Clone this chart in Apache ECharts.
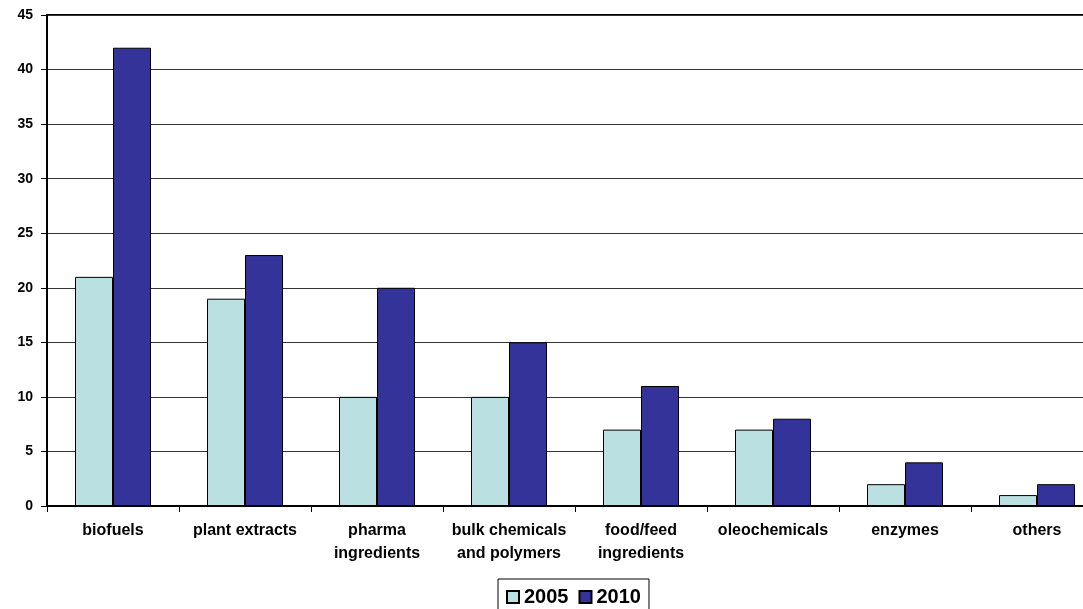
<!DOCTYPE html>
<html><head><meta charset="utf-8">
<script src="https://cdn.jsdelivr.net/npm/echarts@6/dist/echarts.min.js"></script>
<style>html,body{margin:0;padding:0;background:#fff;overflow:hidden;width:1083px;height:609px}#c{width:1103px;height:609px}</style>
</head><body><div id="c"></div>
<script>
var categories = ['biofuels','plant extracts','pharma\ningredients','bulk chemicals\nand polymers','food/feed\ningredients','oleochemicals','enzymes','others'];
var values2005 = [21,19,10,10,7,7,2,1];
var values2010 = [42,23,20,15,11,8,4,2];
var yTicks = {min:0, max:45, interval:5};

var chart = echarts.init(document.getElementById('c'));
chart.setOption({
  animation:false,
  backgroundColor:'#fff',
  grid:{left:47, right:0, top:15, bottom:103, show:true, borderColor:'#000', borderWidth:2, backgroundColor:'transparent'},
  legend:{
    top:579, left:498,
    data:['2005','2010'],
    icon:'rect',
    itemWidth:12, itemHeight:12, itemGap:10,
    borderColor:'#000', borderWidth:1, padding:[8,8,10,8],
    textStyle:{fontFamily:'Liberation Sans, Arial', fontWeight:'bold', fontSize:20, color:'#000', padding:[0,0,0,0]}
  },
  xAxis:{
    type:'category', data:categories,
    axisLine:{lineStyle:{color:'#000', width:2}},
    axisTick:{show:true, length:6, lineStyle:{color:'#000', width:1}},
    axisLabel:{fontFamily:'Liberation Sans, Arial', fontWeight:'bold', fontSize:16, color:'#000', margin:13, lineHeight:23, interval:0}
  },
  yAxis:{
    type:'value', min:yTicks.min, max:yTicks.max, interval:yTicks.interval,
    axisLine:{show:true, lineStyle:{color:'#000', width:2}},
    axisTick:{show:true, length:6, lineStyle:{color:'#000'}},
    splitLine:{lineStyle:{color:'#333', width:1}},
    axisLabel:{fontFamily:'Liberation Sans, Arial', fontWeight:'bold', fontSize:14, color:'#000', margin:14}
  },
  series:[
    {name:'2005', type:'bar', data:values2005, barWidth:38, barGap:'0%',
     itemStyle:{color:'#BAE0E2', borderColor:'#000', borderWidth:1}},
    {name:'2010', type:'bar', data:values2010, barWidth:38, barGap:'0%',
     itemStyle:{color:'#333399', borderColor:'#000', borderWidth:1}}
  ]
});
</script></body></html>
